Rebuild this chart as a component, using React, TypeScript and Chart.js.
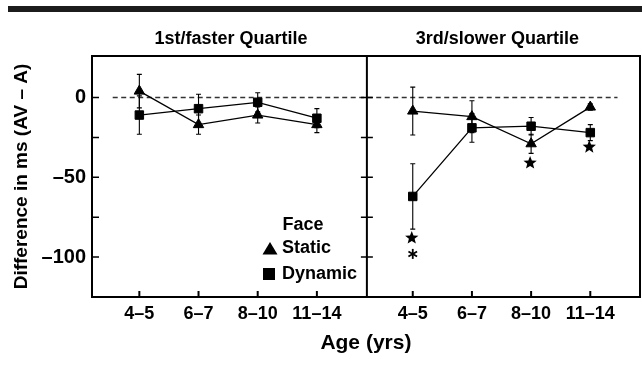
import React, { useEffect, useRef } from 'react';
import { Chart, registerables } from 'chart.js';

Chart.register(...registerables);

// ---------- data ----------
const ageGroups = ['4–5', '6–7', '8–10', '11–14'];
const panelTitles = ['1st/faster Quartile', '3rd/slower Quartile'];

const fastStatic = [4, -17, -11, -17];
const fastStaticErr = [10.5, 6, 5, 5];
const fastDynamic = [-11, -7, -3, -13];
const fastDynamicErr = [12, 9, 6, 6];

const slowStatic = [-8.5, -12, -29, -6];
const slowStaticErr = [15, 10, 6, 2];
const slowDynamic = [-62, -19, -18, -22];
const slowDynamicErr = [20.5, 9, 5.5, 5];

const slowStars = [-88, null, -41, -31];
const slowAsterisks = [-98, null, null, null];

const yLabelTicks = [0, -50, -100];
const yAllTicks = [0, -25, -50, -75, -100];

// ---------- layout constants ----------
const FONT = '"Liberation Sans", Arial, Helvetica, sans-serif';
const X_MIN = -0.8;
const X_MAX = 8.46;
const DIVIDER = 3.845;
const PANEL2 = 4.62;
const Y_MIN = -125;
const Y_MAX = 26;

const px = (arr: (number | null)[], off: number) =>
  arr.map((v, i) => ({ x: i + off, y: v }));

function drawStar(ctx: CanvasRenderingContext2D, cx: number, cy: number, R: number, r: number) {
  ctx.beginPath();
  for (let i = 0; i < 10; i++) {
    const ang = -Math.PI / 2 + (i * Math.PI) / 5;
    const rad = i % 2 === 0 ? R : r;
    const xx = cx + rad * Math.cos(ang);
    const yy = cy + rad * Math.sin(ang);
    if (i === 0) ctx.moveTo(xx, yy);
    else ctx.lineTo(xx, yy);
  }
  ctx.closePath();
  ctx.fill();
}

const decorPlugin = {
  id: 'decor',
  beforeDatasetsDraw(chart: any) {
    const { ctx, scales } = chart;
    const x = scales.x;
    const y = scales.y;
    ctx.save();
    // zero dashed line
    ctx.strokeStyle = '#333';
    ctx.lineWidth = 1.3;
    ctx.setLineDash([5, 3.5]);
    ctx.beginPath();
    ctx.moveTo(x.getPixelForValue(-0.45), y.getPixelForValue(0));
    ctx.lineTo(x.getPixelForValue(8.08), y.getPixelForValue(0));
    ctx.stroke();
    ctx.setLineDash([]);
    // error bars
    ctx.strokeStyle = '#000';
    ctx.lineWidth = 1.1;
    const groups: [number[], number[], number][] = [
      [fastStatic, fastStaticErr, 0],
      [fastDynamic, fastDynamicErr, 0],
      [slowStatic, slowStaticErr, PANEL2],
      [slowDynamic, slowDynamicErr, PANEL2],
    ];
    groups.forEach(([vals, errs, off]) => {
      vals.forEach((v, i) => {
        const xp = x.getPixelForValue(i + off);
        const y1 = y.getPixelForValue(v + errs[i]);
        const y2 = y.getPixelForValue(v - errs[i]);
        ctx.beginPath();
        ctx.moveTo(xp, y1);
        ctx.lineTo(xp, y2);
        ctx.moveTo(xp - 2.5, y1);
        ctx.lineTo(xp + 2.5, y1);
        ctx.moveTo(xp - 2.5, y2);
        ctx.lineTo(xp + 2.5, y2);
        ctx.stroke();
      });
    });
    ctx.restore();
  },
  afterDraw(chart: any) {
    const { ctx, chartArea, scales } = chart;
    const { left, right, top, bottom } = chartArea;
    const x = scales.x;
    const y = scales.y;
    ctx.save();
    // top black bar
    ctx.fillStyle = '#1c1c1c';
    ctx.fillRect(8, 6, 634, 6);

    // panel titles
    ctx.fillStyle = '#000';
    ctx.font = `bold 18px ${FONT}`;
    ctx.textAlign = 'center';
    ctx.textBaseline = 'middle';
    ctx.fillText(panelTitles[0], x.getPixelForValue(1.55), 39);
    ctx.fillText(panelTitles[1], x.getPixelForValue(PANEL2 + 1.43), 39);

    // box and divider
    const divX = x.getPixelForValue(DIVIDER);
    ctx.strokeStyle = '#000';
    ctx.lineWidth = 2;
    ctx.strokeRect(left, top, right - left, bottom - top);
    ctx.beginPath();
    ctx.moveTo(divX, top);
    ctx.lineTo(divX, bottom);
    ctx.stroke();

    // y ticks (inward)
    ctx.lineWidth = 1.5;
    yAllTicks.forEach((v) => {
      const yp = y.getPixelForValue(v);
      ctx.beginPath();
      ctx.moveTo(left, yp);
      ctx.lineTo(left + 7, yp);
      ctx.moveTo(divX - 6, yp);
      ctx.lineTo(divX + 6, yp);
      ctx.stroke();
    });
    // x ticks (inward) and labels
    ctx.lineWidth = 2;
    ctx.font = `bold 18px ${FONT}`;
    ctx.textAlign = 'center';
    ctx.textBaseline = 'middle';
    [0, PANEL2].forEach((off) => {
      ageGroups.forEach((lab, i) => {
        const xp = x.getPixelForValue(i + off);
        ctx.beginPath();
        ctx.moveTo(xp, bottom);
        ctx.lineTo(xp, bottom - 6);
        ctx.stroke();
        ctx.fillText(lab, xp, bottom + 17);
      });
    });

    // stars & asterisks
    ctx.fillStyle = '#000';
    slowStars.forEach((v, i) => {
      if (v === null) return;
      drawStar(ctx, x.getPixelForValue(i + PANEL2) - 1, y.getPixelForValue(v), 7, 3);
    });
    ctx.lineWidth = 1.8;
    slowAsterisks.forEach((v, i) => {
      if (v === null) return;
      const cx = x.getPixelForValue(i + PANEL2);
      const cy = y.getPixelForValue(v);
      for (let k = 0; k < 3; k++) {
        const a = -Math.PI / 2 + (k * Math.PI) / 3;
        ctx.beginPath();
        ctx.moveTo(cx - 5 * Math.cos(a), cy - 5 * Math.sin(a));
        ctx.lineTo(cx + 5 * Math.cos(a), cy + 5 * Math.sin(a));
        ctx.stroke();
      }
    });

    // axis titles
    ctx.font = `bold 21px ${FONT}`;
    ctx.textAlign = 'center';
    ctx.textBaseline = 'middle';
    ctx.fillText('Age (yrs)', divX - 1, 343);
    ctx.save();
    ctx.translate(22, (top + bottom) / 2);
    ctx.rotate(-Math.PI / 2);
    ctx.font = `bold 19px ${FONT}`;
    ctx.fillText('Difference in ms (AV – A)', 0, 0);
    ctx.restore();

    // legend
    ctx.font = `bold 18px ${FONT}`;
    ctx.textAlign = 'center';
    ctx.fillText('Face', 303, 225);
    ctx.textAlign = 'left';
    // triangle
    ctx.beginPath();
    ctx.moveTo(270, 242);
    ctx.lineTo(277.5, 254.5);
    ctx.lineTo(262.5, 254.5);
    ctx.closePath();
    ctx.fill();
    ctx.fillText('Static', 282, 248);
    // square
    ctx.fillRect(263, 268, 12, 12);
    ctx.fillText('Dynamic', 282, 274);
    ctx.restore();
  },
};

export default function App() {
  const ref = useRef<HTMLCanvasElement>(null);
  useEffect(() => {
    if (!ref.current) return;
    const common = {
      borderColor: '#000',
      borderWidth: 1.3,
      pointBackgroundColor: '#000',
      pointBorderColor: '#000',
      pointBorderWidth: 1,
      pointRadius: 6,
      fill: false,
      tension: 0,
    };
    const chart = new Chart(ref.current, {
      type: 'line',
      data: {
        datasets: [
          { label: 'Static (1st)', data: px(fastStatic, 0), pointStyle: 'triangle', ...common },
          { label: 'Dynamic (1st)', data: px(fastDynamic, 0), pointStyle: 'rect', ...common },
          { label: 'Static (3rd)', data: px(slowStatic, PANEL2), pointStyle: 'triangle', ...common },
          { label: 'Dynamic (3rd)', data: px(slowDynamic, PANEL2), pointStyle: 'rect', ...common },
        ] as any,
      },
      options: {
        animation: false,
        responsive: false,
        devicePixelRatio: 1,
        layout: { autoPadding: false, padding: { top: 56, right: 2, left: 0, bottom: 0 } },
        plugins: { legend: { display: false }, tooltip: { enabled: false }, title: { display: false } },
        scales: {
          x: {
            type: 'linear',
            min: X_MIN,
            max: X_MAX,
            grid: { display: false, drawTicks: false },
            border: { display: false },
            ticks: { display: false },
            afterFit: (scale: any) => {
              scale.height = 69;
              scale.paddingLeft = 0;
              scale.paddingRight = 0;
            },
          },
          y: {
            type: 'linear',
            min: Y_MIN,
            max: Y_MAX,
            grid: { display: false, drawTicks: false },
            border: { display: false },
            afterBuildTicks: (scale: any) => {
              scale.ticks = yLabelTicks.map((v) => ({ value: v }));
            },
            afterFit: (scale: any) => {
              scale.width = 92;
              scale.paddingTop = 0;
              scale.paddingBottom = 0;
            },
            ticks: {
              padding: 6,
              color: '#000',
              font: { family: FONT, size: 20, weight: 'bold' },
              callback: (v: any) => (v < 0 ? '–' + Math.abs(v) : String(v)),
            },
          },
        },
      } as any,
      plugins: [decorPlugin],
    });
    return () => chart.destroy();
  }, []);
  return (
    <div style={{ position: 'absolute', left: 0, top: 0, width: 642, height: 366, background: '#fff' }}>
      <canvas ref={ref} width={642} height={366} style={{ display: 'block', width: 642, height: 366 }} />
    </div>
  );
}
